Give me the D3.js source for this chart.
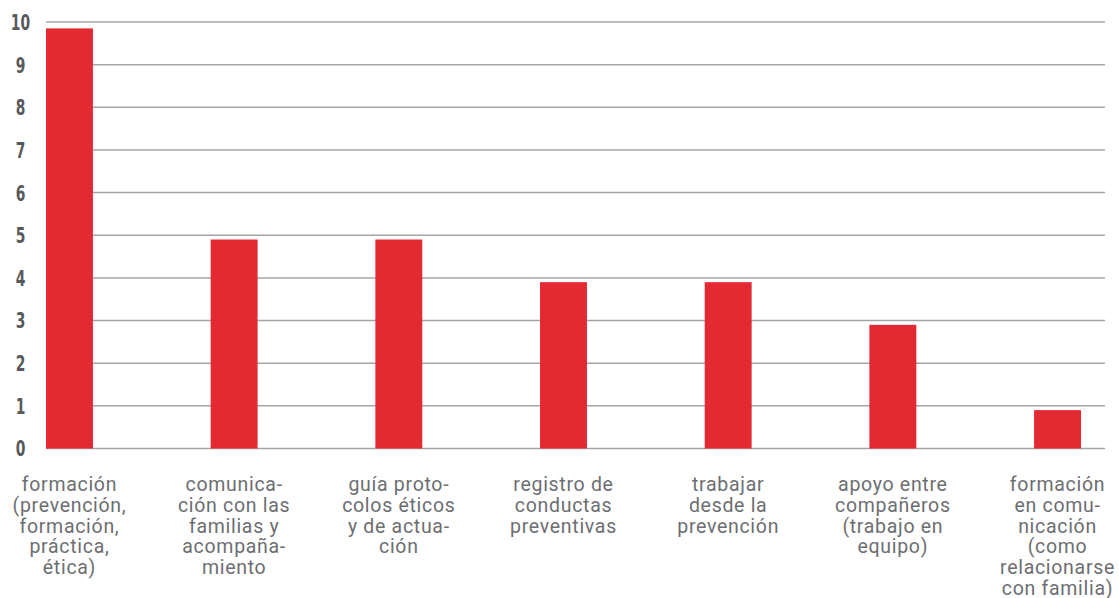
<!DOCTYPE html>
<html><head><meta charset="utf-8">
<script src="https://cdn.jsdelivr.net/npm/d3@7"></script>
<style>body{margin:0;background:#fff}</style>
</head><body>
<svg id="c" width="1119" height="598"></svg>
<script>
const categories = [
  ["formación","(prevención,","formación,","práctica,","ética)"],
  ["comunica-","ción con las","familias y","acompaña-","miento"],
  ["guía proto-","colos éticos","y de actua-","ción"],
  ["registro de","conductas","preventivas"],
  ["trabajar","desde la","prevención"],
  ["apoyo entre","compañeros","(trabajo en","equipo)"],
  ["formación","en comu-","nicación","(como","relacionarse","con familia)"]
];
const values = [9.85, 4.9, 4.9, 3.9, 3.9, 2.9, 0.9];
const yTicks = [0,1,2,3,4,5,6,7,8,9,10];

(function(){
const svg = d3.select("#c");
const mLeft = 46, gridRight = 1105, mTop = 22, mBottom = 448.5;
const keys = categories.map((d,i)=>i);
const x = d3.scaleBand().domain(keys).range([mLeft, 1081]).paddingInner(0.715).paddingOuter(0).align(0);
const y = d3.scaleLinear().domain([0,10]).range([mBottom, mTop]);

svg.append("g").selectAll("line").data(yTicks).join("line")
  .attr("x1", mLeft).attr("x2", gridRight)
  .attr("y1", d=>y(d)).attr("y2", d=>y(d))
  .attr("stroke", "#a4a4a6").attr("stroke-width", 1.5);

svg.append("g").selectAll("text").data(yTicks).join("text")
  .attr("transform", d=>`translate(20.5,${y(d)}) scale(0.63,1)`)
  .attr("dy", "0.36em")
  .attr("text-anchor", "middle")
  .attr("font-family", "'DejaVu Sans',sans-serif")
  .attr("font-weight", "bold").attr("font-size", 22).attr("fill", "#58595b")
  .text(d=>d);

svg.append("g").selectAll("rect").data(values).join("rect")
  .attr("x", (d,i)=>x(i)).attr("width", x.bandwidth())
  .attr("y", d=>y(d)).attr("height", d=>y(0)-y(d))
  .attr("fill", "#e32a33");

const lab = svg.append("g").selectAll("text").data(categories).join("text")
  .attr("text-anchor", "middle")
  .attr("font-family", "Roboto, 'Open Sans', sans-serif")
  .attr("font-size", 19.5).attr("fill", "#6d6e71")
  .attr("letter-spacing", 0.7);
lab.each(function(lines, i){
  const cx = x(i) + x.bandwidth()/2;
  d3.select(this).selectAll("tspan").data(lines).join("tspan")
    .attr("x", cx).attr("y", (d,j)=>491 + j*20.8).text(d=>d);
});
})();
</script>
</body></html>
